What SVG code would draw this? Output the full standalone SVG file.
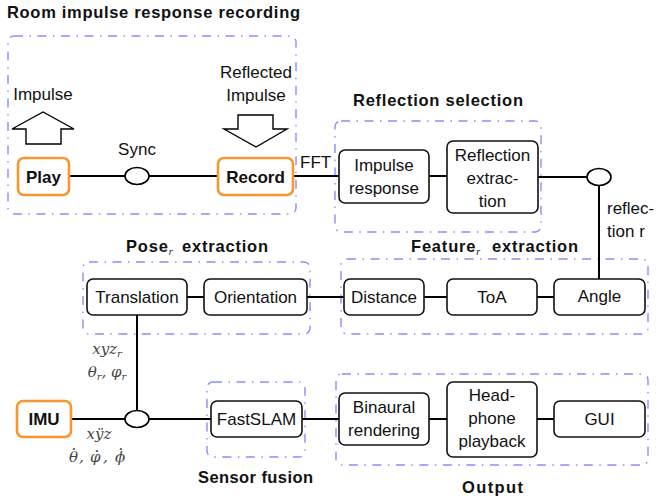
<svg xmlns="http://www.w3.org/2000/svg" width="661" height="501" viewBox="0 0 661 501">
<style>
text{font-family:"Liberation Sans",Arial,sans-serif;font-size:17px;fill:#111;}
.t{font-weight:bold;font-size:16.5px;}
.ls{letter-spacing:0.8px;}
.b{font-weight:bold;}
.c{text-anchor:middle;}
.grp{fill:none;stroke:#8c8cff;stroke-width:1.4;stroke-dasharray:9 6.5 1.5 6.5;}
.n{fill:#fff;stroke:#111;stroke-width:1.6;}
.o{fill:#fff;stroke:#f7972f;stroke-width:2.6;}
.l{stroke:#000;stroke-width:2;fill:none;}
.e{fill:#fff;stroke:#000;stroke-width:1.6;}
.arr{fill:#fff;stroke:#000;stroke-width:1.4;}
.m{font-family:"DejaVu Serif","Liberation Serif",serif;font-style:italic;fill:#444;font-size:15px;}
.sub{font-family:"Liberation Serif",serif;font-style:italic;font-size:10px;font-weight:normal;letter-spacing:0;}
</style>

<g id="groups">
<rect class="grp" x="8" y="36" width="288" height="178" rx="6"/>
<rect class="grp" x="335" y="121" width="206" height="111" rx="6"/>
<rect class="grp" x="83" y="262" width="227" height="72" rx="6"/>
<rect class="grp" x="341" y="259" width="307" height="75" rx="6"/>
<rect class="grp" x="207" y="382" width="98" height="75" rx="6"/>
<rect class="grp" x="336" y="374" width="312" height="91" rx="6"/>
</g>

<g id="titles">
<text class="t" x="7" y="18" textLength="293" lengthAdjust="spacing">Room impulse response recording</text>
<text class="t" x="353" y="106" textLength="170" lengthAdjust="spacing">Reflection selection</text>
<text class="t ls" x="126" y="252">Pose<tspan class="sub" dy="3">r</tspan><tspan x="182" dy="-3">extraction</tspan></text>
<text class="t ls" x="411" y="252">Feature<tspan class="sub" dy="3">r</tspan><tspan x="492" dy="-3">extraction</tspan></text>
<text class="t" x="198" y="483" textLength="115" lengthAdjust="spacing">Sensor fusion</text>
<text class="t" x="462" y="493" textLength="61" lengthAdjust="spacing">Output</text>
</g>

<g id="connectors">
<line class="l" x1="69" y1="176" x2="218" y2="176"/>
<line class="l" x1="293" y1="176" x2="339" y2="176"/>
<line class="l" x1="429" y1="176" x2="447" y2="176"/>
<line class="l" x1="538" y1="177" x2="588" y2="177"/>
<line class="l" x1="599" y1="185" x2="599" y2="279"/>
<line class="l" x1="187" y1="297" x2="204" y2="297"/>
<line class="l" x1="307" y1="297" x2="344" y2="297"/>
<line class="l" x1="424" y1="297" x2="447" y2="297"/>
<line class="l" x1="537" y1="297" x2="554" y2="297"/>
<line class="l" x1="137" y1="315" x2="137" y2="411"/>
<line class="l" x1="71" y1="419" x2="211" y2="419"/>
<line class="l" x1="302" y1="419" x2="339" y2="419"/>
<line class="l" x1="429" y1="419" x2="447" y2="419"/>
<line class="l" x1="537" y1="419" x2="554" y2="419"/>
<text x="300" y="168">FFT</text>
<text x="607" y="214">reflec-</text>
<text x="607" y="237">tion r</text>
<text class="m c" x="107" y="354">xyz<tspan font-size="10" dy="3">r</tspan></text>
<text class="m c" x="107" y="377">θ<tspan font-size="10" dy="3">r</tspan><tspan dy="-3">, φ</tspan><tspan font-size="10" dy="3">r</tspan></text>
<text class="m c" x="99" y="439">xÿz</text>
<text class="m" y="462"><tspan x="69">θ</tspan><tspan x="79">,</tspan><tspan x="90">φ</tspan><tspan x="103">,</tspan><tspan x="115">ϕ</tspan><tspan x="71.6" y="449.5">.</tspan><tspan x="94.6" y="451.5">.</tspan><tspan x="118.6" y="449.5">.</tspan></text>
</g>

<g id="impulse-arrow">
<polygon class="arr" points="26,144 26,129 12,129 43,112 74,129 61,129 61,144"/>
<text class="c" x="43" y="100">Impulse</text>
</g>
<g id="reflected-arrow">
<polygon class="arr" points="238,115 273,115 273,129 287,129 256,147 224,129 238,129"/>
<text class="c" x="256" y="78">Reflected</text>
<text class="c" x="256" y="101">Impulse</text>
</g>

<g id="play">
<rect class="o" x="18" y="158" width="51" height="37" rx="6"/>
<text class="b c" x="43.5" y="182.5">Play</text>
</g>
<g id="sync">
<ellipse class="e" cx="137" cy="176" rx="12" ry="8.5"/>
<text class="c" x="137" y="155">Sync</text>
</g>
<g id="record">
<rect class="o" x="218" y="158" width="75" height="37" rx="6"/>
<text class="b c" x="255.5" y="182.5">Record</text>
</g>
<g id="impulse-response">
<rect class="n" x="339" y="150" width="90" height="53" rx="6"/>
<text class="c" x="384" y="171">Impulse</text>
<text class="c" x="384" y="194">response</text>
</g>
<g id="reflection-extraction">
<rect class="n" x="447" y="141" width="91" height="72" rx="6"/>
<text class="c" x="492.5" y="161">Reflection</text>
<text class="c" x="492.5" y="184">extrac-</text>
<text class="c" x="492.5" y="207">tion</text>
</g>
<g id="junction-r">
<ellipse class="e" cx="599" cy="177" rx="12" ry="8.5"/>
</g>
<g id="translation">
<rect class="n" x="87" y="279" width="100" height="36" rx="6"/>
<text class="c" x="137" y="303">Translation</text>
</g>
<g id="orientation">
<rect class="n" x="204" y="279" width="103" height="36" rx="6"/>
<text class="c" x="255.5" y="303">Orientation</text>
</g>
<g id="distance">
<rect class="n" x="344" y="279" width="80" height="36" rx="6"/>
<text class="c" x="384" y="303">Distance</text>
</g>
<g id="toa">
<rect class="n" x="447" y="279" width="90" height="36" rx="6"/>
<text class="c" x="492" y="303">ToA</text>
</g>
<g id="angle">
<rect class="n" x="554" y="279" width="91" height="36" rx="6"/>
<text class="c" x="599.5" y="302">Angle</text>
</g>
<g id="imu">
<rect class="o" x="17" y="401" width="54" height="36" rx="6"/>
<text class="b c" x="44" y="425">IMU</text>
</g>
<g id="junction-imu">
<ellipse class="e" cx="137" cy="419" rx="12" ry="8.5"/>
</g>
<g id="fastslam">
<rect class="n" x="211" y="401" width="91" height="36" rx="6"/>
<text class="c" x="256.5" y="425">FastSLAM</text>
</g>
<g id="binaural">
<rect class="n" x="339" y="393" width="90" height="52" rx="6"/>
<text class="c" x="384" y="413">Binaural</text>
<text class="c" x="384" y="436">rendering</text>
</g>
<g id="headphone">
<rect class="n" x="447" y="382" width="90" height="75" rx="6"/>
<text class="c" x="492" y="401">Head-</text>
<text class="c" x="492" y="424">phone</text>
<text class="c" x="492" y="447">playback</text>
</g>
<g id="gui">
<rect class="n" x="554" y="401" width="91" height="36" rx="6"/>
<text class="c" x="599.5" y="425">GUI</text>
</g>
</svg>
